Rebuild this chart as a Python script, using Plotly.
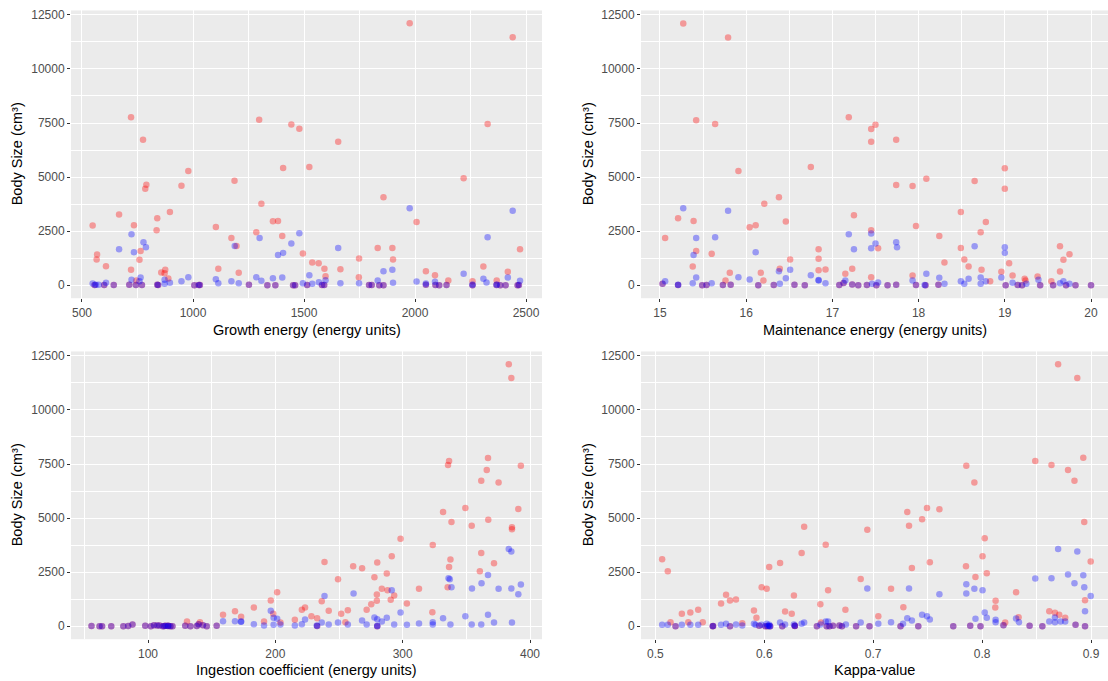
import plotly.graph_objects as go

# ---------------- Growth energy panel ----------------
GE_RED_X = [548, 568, 566, 608, 667, 721, 721, 734, 775, 785, 790, 764, 759, 745, 839, 836, 857, 872, 875, 889,
            896, 948, 979, 1103, 1114, 1173, 1187, 1196, 1206, 1285, 1298, 1308, 1360, 1383, 1402, 1406, 1443,
            1479, 1495, 1524, 1537, 1566, 1592, 1597, 1654, 1664, 1748, 1747, 1832, 1858, 1898, 1901, 1976, 2007,
            2049, 2090, 2150, 2219, 2259, 2308, 2327, 2368, 2418, 2440, 2473]
GE_RED_Y = [2755, 1416, 1185, 877, 3263, 7772, 708, 2770, 6726, 4463, 4648, 1585, 1170, 215, 3093, 2539, 585, 554,
            708, 308, 3386, 4602, 5279, 2693, 754, 2185, 4832, 1816, 570, 2447, 7649, 3770, 2955, 2970, 2278, 5417,
            7433, 7233, 1462, 5463, 1047, 1016, 754, 415, 6633, 739, 1231, 369, 1724, 4063, 1724, 1185, 12112, 2924,
            646, 462, 215, 4940, 185, 862, 7449, 215, 616, 11466, 1662]
GE_BLUE_X = [548, 608, 667, 723, 723, 734, 764, 777, 788, 759, 872, 872, 896, 948, 979, 1103, 1114, 1173, 1188,
             1206, 1285, 1300, 1308, 1360, 1383, 1406, 1402, 1443, 1479, 1495, 1524, 1537, 1567, 1597, 1654, 1664,
             1748, 1832, 1858, 1898, 1901, 1976, 2007, 2049, 2090, 2219, 2259, 2308, 2327, 2322, 2368, 2418, 2440,
             2473, 562, 575]
GE_BLUE_Y = [77, 108, 1662, 2355, 246, 1524, 354, 1985, 1755, 185, 246, 62, 108, 185, 369, 277, 92, 185, 1816,
             92, 369, 2185, 200, 323, 1400, 1493, 354, 1924, 2401, 92, 462, 62, 138, 231, 1724, 92,
             92, 215, 646, 708, 108, 3555, 169, 77, 154, 523, 31, 292, 2216, 123, 31, 354, 3447,
             200, 20, 15]
GE_BOTH_X = [557, 600, 643, 713, 743, 770, 839, 843, 1006, 1026, 1031, 1252, 1335, 1371, 1451, 1460, 1514, 1581,
             1591, 1793, 1805, 1839, 1858, 2049, 2092, 2109, 2142, 2259, 2367, 2384, 2408, 2462, 2468]
GE_BOTH_Y = [10, 5, 5, 15, 10, 5, 20, 10, 0, 5, 10, 15, 0, 0, 0, 0, 10, 5,
             10, 5, 5, 0, 0, 20, 10, 0, 5, 0, 10, 0, 0, 0, 5]

# ---------------- Maintenance energy panel ----------------
ME_RED_X = [15.27, 15.79, 15.42, 15.64, 15.91, 15.06, 15.21, 15.39, 15.42, 15.38, 15.60, 15.81, 15.76, 16.04,
            16.11, 16.21, 16.17, 16.38, 16.39, 16.46, 16.51, 16.20, 16.75, 16.84, 16.84, 16.84, 16.92, 17.19,
            17.15, 17.23, 17.25, 17.45, 17.50, 17.45, 17.45, 17.45, 17.53, 17.74, 17.74, 17.93, 17.97, 18.09,
            17.93, 18.24, 18.30, 18.49, 18.49, 18.53, 18.58, 18.65, 18.72, 18.78, 18.73, 18.83, 18.96, 19.00,
            19.00, 19.05, 19.09, 19.23, 19.24, 19.38, 19.54, 19.64, 19.64, 19.68, 19.75]
ME_RED_Y = [12097, 11450, 7633, 7449, 5279, 2185, 3093, 2970, 1585, 862, 1447, 570, 215, 2678,
            2770, 3770, 570, 4063, 754, 2940, 1185, 215, 5463, 1662, 1216, 693, 723, 7772,
            523, 754, 3232, 7218, 7418, 6633, 2540, 369, 1708, 6726, 4632, 4586, 2739, 4925,
            446, 2278, 1047, 3386, 1724, 1185, 862, 4817, 2447, 2924, 708, 185, 616, 5402,
            4463, 1016, 446, 292, 215, 400, 185, 1801, 631, 1170, 1431]
ME_BLUE_X = [15.27, 15.79, 15.42, 15.64, 15.39, 15.42, 15.06, 15.38, 15.60, 15.91, 16.04, 16.11, 16.38, 16.51,
             16.46, 16.39, 16.75, 16.84, 16.92, 17.19, 17.25, 17.15, 17.45, 17.45, 17.50, 17.53, 17.74, 17.75,
             17.93, 18.09, 18.24, 18.30, 18.49, 18.53, 18.58, 18.65, 18.72, 18.72, 18.78, 18.96, 19.00, 19.00,
             19.09, 19.39, 19.64, 19.68, 19.75, 15.21, 16.84, 17.46, 18.07, 19.25]
ME_BLUE_Y = [3555, 3447, 2185, 2216, 1400, 354, 185, 92, 92, 369, 262, 1524, 646, 708,
             323, 62, 462, 215, 92, 2355, 1662, 215, 2386, 1708, 1924, 123, 1985, 1755,
             215, 523, 339, 62, 185, 62, 292, 1801, 354, 62, 185, 354, 1755, 1493,
             108, 246, 92, 185, 62, 20, 240, 60, 10, 60]
ME_BOTH_X = [15.03, 15.21, 15.49, 15.54, 15.73, 15.82, 16.14, 16.32, 16.56, 16.68, 17.08, 17.13, 17.23, 17.30,
             17.40, 17.51, 17.64, 17.74, 17.97, 18.08, 18.23, 19.01, 19.15, 19.20, 19.41, 19.56, 19.71, 19.82,
             20.00]
ME_BOTH_Y = [60, 10, 0, 10, 5, 20, 0, 10, 20, 0, 5, 100, 30, 0,
             10, 0, 0, 20, 10, 0, 20, 0, 10, 0, 0, 0, 0, 0,
             0]

# ---------------- Ingestion coefficient panel ----------------
IC_RED_X = [383.3, 385.3, 336.4, 335.6, 367.0, 366.0, 392.8, 361.7, 375.3, 331.7, 349.2, 390.8, 338.3, 354.2,
            367.2, 385.8, 385.8, 298.3, 323.6, 361.7, 337.5, 371.7, 336.4, 360.6, 335.3, 291.4, 280.0, 238.6,
            261.1, 268.1, 277.8, 287.5, 249.2, 283.6, 288.1, 279.7, 293.3, 275.3, 279.7, 290.6, 312.8, 303.3,
            323.3, 236.4, 201.4, 196.4, 183.1, 168.3, 158.9, 173.1, 198.3, 220.8, 223.3, 228.3, 232.8, 241.9,
            251.7, 256.9, 271.7, 215.3, 191.1, 255.0, 130.6, 140.8, 204.0]
IC_RED_Y = [12112, 11481, 7633, 7449, 7772, 7218, 7418, 6725, 6649, 5279, 5463, 5417, 4817, 4648,
            4925, 4571, 4478, 4048, 3755, 3386, 3078, 2909, 2739, 2539, 1801, 3232, 2939, 2970,
            2770, 2678, 2262, 2432, 2170, 1724, 1662, 1462, 1416, 1016, 1170, 1216, 1724, 1047,
            646, 1154, 1570, 1185, 862, 693, 523, 431, 569, 754, 862, 462, 369, 708,
            569, 739, 754, 292, 215, 185, 215, 185, 169]
IC_BLUE_X = [383.3, 385.3, 336.0, 337.0, 367.0, 361.9, 338.3, 354.4, 375.3, 385.3, 392.8, 390.8, 261.4, 238.6,
             291.4, 298.3, 196.4, 198.6, 201.4, 331.7, 349.2, 367.0, 361.7, 371.7, 385.8, 323.6, 323.6, 312.8,
             303.3, 293.3, 287.5, 280.0, 277.8, 283.6, 268.1, 256.9, 249.2, 241.9, 236.4, 223.3, 220.8, 215.3,
             204.0, 198.6, 191.1, 183.1, 173.1, 168.3, 158.9, 271.7, 337.5, 354.2, 173.0, 232.5, 280.0]
IC_BLUE_Y = [3570, 3447, 2216, 2170, 2370, 1985, 1801, 1739, 1724, 1739, 1924, 1477, 1508, 1400,
             1662, 631, 708, 385, 339, 369, 462, 523, 77, 169, 169, 185, 77, 123,
             62, 77, 385, 323, 400, 215, 262, 77, 169, 77, 169, 308, 92, 31,
             77, 62, 31, 92, 215, 231, 231, 77, 77, 77, 200, 30, 20]
IC_BOTH_X = [55.6, 61.9, 63.9, 71.1, 80.6, 84.4, 87.8, 97.8, 102.2, 104.7, 107.2, 111.7, 112.8, 113.9,
             115.6, 117.5, 119.2, 129.2, 133.3, 138.3, 139.7, 143.1, 146.1, 153.9, 232.8, 280.0, 109.0,
             116.0]
IC_BOTH_Y = [10, 0, 0, 0, 0, 10, 80, 20, 0, 40, 30, 0, 10, 20,
             10, 0, 0, 20, 0, 10, 90, 40, 0, 20, 10, 0, 30,
             20]

# ---------------- Kappa panel ----------------
KV_RED_X = [0.8698, 0.8874, 0.8929, 0.8488, 0.8637, 0.7855, 0.8789, 0.8848, 0.7929, 0.7313, 0.7494, 0.7608,
            0.7449, 0.7329, 0.6946, 0.6366, 0.8938, 0.8024, 0.6564, 0.6343, 0.8004, 0.5062, 0.8997, 0.7520,
            0.6145, 0.7852, 0.6045, 0.7355, 0.5114, 0.8043, 0.7939, 0.6885, 0.5976, 0.6022, 0.7164, 0.6586,
            0.8312, 0.5649, 0.6272, 0.5740, 0.5685, 0.8945, 0.8124, 0.5603, 0.6515, 0.8121, 0.7277, 0.5393,
            0.6745, 0.5905, 0.8617, 0.6191, 0.5321, 0.5243, 0.6252, 0.8669, 0.8708, 0.7047, 0.8763, 0.5928,
            0.8335, 0.5139, 0.5302, 0.5435, 0.6521, 0.5798, 0.8212]
KV_RED_Y = [12112, 11481, 7787, 7633, 7449, 7418, 7218, 6725, 6649, 5279, 5463, 5402,
            4940, 4648, 4463, 4602, 4817, 4063, 3770, 3386, 3232, 3093, 2985, 2955,
            2924, 2770, 2739, 2693, 2539, 2447, 2278, 2185, 1801, 1724, 1724, 1662,
            1570, 1447, 1416, 1231, 1185, 1200, 1170, 1047, 1016, 862, 877, 754,
            754, 723, 693, 677, 631, 569, 569, 616, 523, 462, 385, 385,
            415, 185, 185, 185, 169, 138, 169]
KV_BLUE_X = [0.8698, 0.8874, 0.8488, 0.8637, 0.8789, 0.8929, 0.8848, 0.8938, 0.7855, 0.7855, 0.7929, 0.8004,
             0.6946, 0.7329, 0.7608, 0.8997, 0.8945, 0.8024, 0.7449, 0.7494, 0.7520, 0.7313, 0.7355, 0.7939,
             0.8043, 0.8124, 0.8124, 0.8312, 0.8338, 0.8617, 0.8669, 0.8669, 0.8763, 0.8721, 0.7164, 0.7047,
             0.6885, 0.7274, 0.6586, 0.6564, 0.6366, 0.6343, 0.6145, 0.6749, 0.6515, 0.6272, 0.5062, 0.5114,
             0.5243, 0.5321, 0.5393, 0.5603, 0.5649, 0.5740, 0.5798, 0.5905, 0.5976, 0.6022, 0.6045, 0.6191,
             0.6040, 0.6050, 0.5920]
KV_BLUE_Y = [3570, 3447, 2201, 2216, 2385, 2355, 1985, 1801, 1939, 1508, 1724, 1662,
             1739, 1739, 1477, 1400, 693, 631, 523, 462, 308, 369, 262, 339,
             385, 292, 185, 354, 185, 215, 400, 185, 215, 215, 185, 108,
             169, 108, 215, 215, 169, 108, 169, 77, 77, 77, 62, 62,
             62, 62, 62, 62, 108, 77, 31, 108, 62, 108, 62, 77,
             20, 0, 60]
KV_BOTH_X = [0.5185, 0.5526, 0.5685, 0.5954, 0.6009, 0.6054, 0.6165, 0.6281, 0.6483, 0.6573, 0.6599, 0.6631,
             0.6690, 0.6713, 0.6843, 0.6966, 0.7251, 0.7414, 0.7735, 0.7891, 0.7985, 0.8196, 0.8436, 0.8553,
             0.8858, 0.8945, 0.5530, 0.6030, 0.6280]
KV_BOTH_Y = [0, 0, 0, 20, 0, 0, 0, 20, 0, 0, 0, 20,
             30, 0, 0, 0, 0, 0, 0, 20, 0, 40, 20, 0,
             60, 0, 10, 0, 10]

Y_TITLE = "Body Size (cm³)"
X_TITLES = ["Growth energy (energy units)", "Maintenance energy (energy units)",
            "Ingestion coefficient (energy units)", "Kappa-value"]

RED = "rgba(255,0,0,0.35)"
BLUE = "rgba(0,0,255,0.35)"
FONT = "Liberation Sans, Arial, sans-serif"

panels = [
    (GE_RED_X, GE_RED_Y, GE_BLUE_X, GE_BLUE_Y, GE_BOTH_X, GE_BOTH_Y),
    (ME_RED_X, ME_RED_Y, ME_BLUE_X, ME_BLUE_Y, ME_BOTH_X, ME_BOTH_Y),
    (IC_RED_X, IC_RED_Y, IC_BLUE_X, IC_BLUE_Y, IC_BOTH_X, IC_BOTH_Y),
    (KV_RED_X, KV_RED_Y, KV_BLUE_X, KV_BLUE_Y, KV_BOTH_X, KV_BOTH_Y),
]

fig = go.Figure()
for i, (rx, ry, bx, by, zx, zy) in enumerate(panels):
    sfx = "" if i == 0 else str(i + 1)
    fig.add_trace(go.Scatter(x=rx + zx, y=ry + zy, mode="markers", xaxis="x" + sfx, yaxis="y" + sfx,
                             marker=dict(color=RED, size=6.5, line=dict(width=0)), showlegend=False,
                             hoverinfo="skip"))
    fig.add_trace(go.Scatter(x=bx + zx, y=by + zy, mode="markers", xaxis="x" + sfx, yaxis="y" + sfx,
                             marker=dict(color=BLUE, size=6.5, line=dict(width=0)), showlegend=False,
                             hoverinfo="skip"))

W, H = 1108, 681
LEFT_X = [71 / W, 542 / W]
RIGHT_X = [641 / W, 1.0]
TOP_Y = [1 - 297.1 / H, 1 - 8.5 / H]
BOT_Y = [1 - 639.1 / H, 1 - 350.5 / H]

tickfont = dict(family=FONT, size=12, color="#4D4D4D")
common = dict(showgrid=True, gridcolor="white", gridwidth=1.1, zeroline=False, showline=False,
              ticks="outside", ticklen=3, tickwidth=1, tickcolor="#333333", tickfont=tickfont)


def xax(domain, rng, t0, dt, mdt, anchor, fmt=None):
    d = dict(domain=domain, range=rng, tick0=t0, dtick=dt, anchor=anchor,
             minor=dict(tick0=t0, dtick=mdt, showgrid=True, gridcolor="white", gridwidth=0.55, ticks=""),
             **common)
    if fmt:
        d["tickformat"] = fmt
    return d


def yax(domain, anchor):
    return dict(domain=domain, range=[-605, 12705], tick0=0, dtick=2500, tickformat="d", anchor=anchor,
                minor=dict(tick0=0, dtick=1250, showgrid=True, gridcolor="white", gridwidth=0.55, ticks=""),
                **common)


fig.update_layout(
    width=W, height=H, margin=dict(l=0, r=0, t=0, b=0),
    paper_bgcolor="white", plot_bgcolor="#EBEBEB",
    xaxis=xax(LEFT_X, [450.5, 2572], 500, 500, 250, "y", "d"),
    yaxis=yax(TOP_Y, "x"),
    xaxis2=xax(RIGHT_X, [14.78, 20.197], 15, 1, 0.5, "y2"),
    yaxis2=yax(TOP_Y, "x2"),
    xaxis3=xax(LEFT_X, [39.5, 409.4], 100, 100, 50, "y3", "d"),
    yaxis3=yax(BOT_Y, "x3"),
    xaxis4=xax(RIGHT_X, [0.4868, 0.9156], 0.5, 0.1, 0.05, "y4"),
    yaxis4=yax(BOT_Y, "x4"),
    font=dict(family=FONT),
)

title_font = dict(family=FONT, size=14.5, color="black")
annos = []
# x-axis titles
for txt, cx, cy in [(X_TITLES[0], (71 + 542) / 2, 329), (X_TITLES[1], (641 + 1108) / 2, 329),
                    (X_TITLES[2], (71 + 542) / 2, 670), (X_TITLES[3], (641 + 1108) / 2, 670)]:
    annos.append(dict(text=txt, x=cx / W, y=1 - cy / H, xref="paper", yref="paper", showarrow=False,
                      xanchor="center", yanchor="middle", font=title_font))
# y-axis titles
for cx, cy in [(17, 152.8), (588, 152.8), (17, 494.8), (588, 494.8)]:
    annos.append(dict(text=Y_TITLE, x=cx / W, y=1 - cy / H, xref="paper", yref="paper", showarrow=False,
                      textangle=-90, xanchor="center", yanchor="middle", font=title_font))
fig.update_layout(annotations=annos)

fig.write_html("out.html")
